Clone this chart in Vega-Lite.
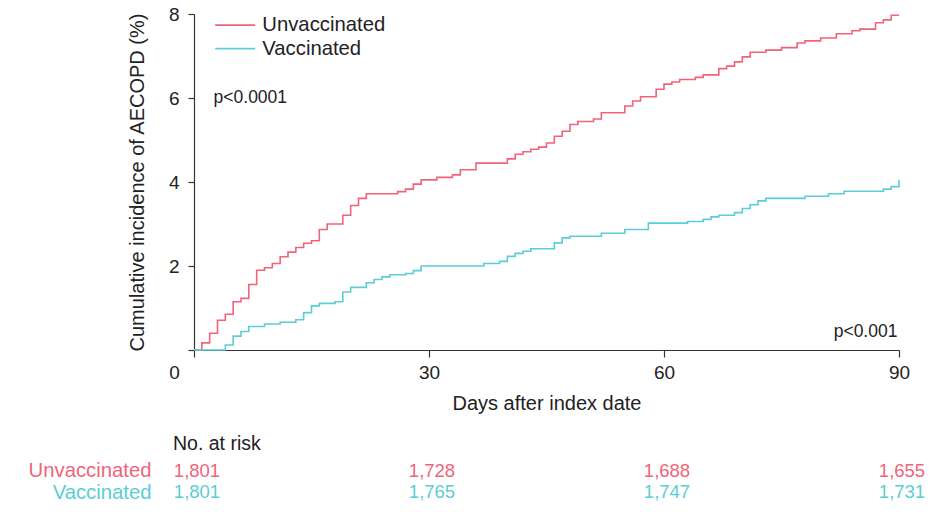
{
  "$schema": "https://vega.github.io/schema/vega-lite/v6.json",
  "background": "white",
  "padding": {"left": 28, "top": 5, "right": 6, "bottom": 5},
  "config": {
    "view": {"stroke": null},
    "font": "Liberation Sans",
    "axis": {"labelFont": "Liberation Sans", "titleFont": "Liberation Sans", "labelColor": "#222222", "titleColor": "#222222", "titleFontWeight": "normal", "grid": false},
    "title": {"font": "Liberation Sans", "fontWeight": "normal", "color": "#222222"}
  },
  "datasets": {
    "curves": [
      {"group": "Unvaccinated", "day": 0, "value": 0},
      {"group": "Unvaccinated", "day": 1, "value": 0.17},
      {"group": "Unvaccinated", "day": 2, "value": 0.40},
      {"group": "Unvaccinated", "day": 3, "value": 0.71},
      {"group": "Unvaccinated", "day": 4, "value": 0.85},
      {"group": "Unvaccinated", "day": 5, "value": 1.15},
      {"group": "Unvaccinated", "day": 6, "value": 1.23},
      {"group": "Unvaccinated", "day": 7, "value": 1.56},
      {"group": "Unvaccinated", "day": 8, "value": 1.90},
      {"group": "Unvaccinated", "day": 9, "value": 1.96},
      {"group": "Unvaccinated", "day": 10, "value": 2.06},
      {"group": "Unvaccinated", "day": 11, "value": 2.22},
      {"group": "Unvaccinated", "day": 12, "value": 2.33},
      {"group": "Unvaccinated", "day": 13, "value": 2.44},
      {"group": "Unvaccinated", "day": 14, "value": 2.54},
      {"group": "Unvaccinated", "day": 15, "value": 2.60},
      {"group": "Unvaccinated", "day": 16, "value": 2.87},
      {"group": "Unvaccinated", "day": 17, "value": 3.00},
      {"group": "Unvaccinated", "day": 19, "value": 3.21},
      {"group": "Unvaccinated", "day": 20, "value": 3.44},
      {"group": "Unvaccinated", "day": 21, "value": 3.61},
      {"group": "Unvaccinated", "day": 22, "value": 3.72},
      {"group": "Unvaccinated", "day": 26, "value": 3.77},
      {"group": "Unvaccinated", "day": 27, "value": 3.83},
      {"group": "Unvaccinated", "day": 28, "value": 3.95},
      {"group": "Unvaccinated", "day": 29, "value": 4.05},
      {"group": "Unvaccinated", "day": 31, "value": 4.11},
      {"group": "Unvaccinated", "day": 33, "value": 4.17},
      {"group": "Unvaccinated", "day": 34, "value": 4.29},
      {"group": "Unvaccinated", "day": 36, "value": 4.45},
      {"group": "Unvaccinated", "day": 40, "value": 4.55},
      {"group": "Unvaccinated", "day": 41, "value": 4.66},
      {"group": "Unvaccinated", "day": 42, "value": 4.72},
      {"group": "Unvaccinated", "day": 43, "value": 4.78},
      {"group": "Unvaccinated", "day": 44, "value": 4.83},
      {"group": "Unvaccinated", "day": 45, "value": 4.93},
      {"group": "Unvaccinated", "day": 46, "value": 5.09},
      {"group": "Unvaccinated", "day": 47, "value": 5.21},
      {"group": "Unvaccinated", "day": 48, "value": 5.37},
      {"group": "Unvaccinated", "day": 49, "value": 5.44},
      {"group": "Unvaccinated", "day": 51, "value": 5.50},
      {"group": "Unvaccinated", "day": 52, "value": 5.65},
      {"group": "Unvaccinated", "day": 55, "value": 5.81},
      {"group": "Unvaccinated", "day": 56, "value": 5.93},
      {"group": "Unvaccinated", "day": 57, "value": 6.03},
      {"group": "Unvaccinated", "day": 59, "value": 6.21},
      {"group": "Unvaccinated", "day": 60, "value": 6.33},
      {"group": "Unvaccinated", "day": 61, "value": 6.38},
      {"group": "Unvaccinated", "day": 62, "value": 6.44},
      {"group": "Unvaccinated", "day": 64, "value": 6.49},
      {"group": "Unvaccinated", "day": 65, "value": 6.55},
      {"group": "Unvaccinated", "day": 67, "value": 6.70},
      {"group": "Unvaccinated", "day": 68, "value": 6.76},
      {"group": "Unvaccinated", "day": 69, "value": 6.86},
      {"group": "Unvaccinated", "day": 70, "value": 6.98},
      {"group": "Unvaccinated", "day": 71, "value": 7.09},
      {"group": "Unvaccinated", "day": 73, "value": 7.14},
      {"group": "Unvaccinated", "day": 75, "value": 7.20},
      {"group": "Unvaccinated", "day": 77, "value": 7.31},
      {"group": "Unvaccinated", "day": 78, "value": 7.36},
      {"group": "Unvaccinated", "day": 80, "value": 7.43},
      {"group": "Unvaccinated", "day": 82, "value": 7.53},
      {"group": "Unvaccinated", "day": 84, "value": 7.60},
      {"group": "Unvaccinated", "day": 85, "value": 7.64},
      {"group": "Unvaccinated", "day": 87, "value": 7.79},
      {"group": "Unvaccinated", "day": 88, "value": 7.86},
      {"group": "Unvaccinated", "day": 89, "value": 7.97},
      {"group": "Unvaccinated", "day": 90, "value": 7.97},
      {"group": "Vaccinated", "day": 0, "value": 0},
      {"group": "Vaccinated", "day": 4, "value": 0.12},
      {"group": "Vaccinated", "day": 5, "value": 0.33},
      {"group": "Vaccinated", "day": 6, "value": 0.44},
      {"group": "Vaccinated", "day": 7, "value": 0.56},
      {"group": "Vaccinated", "day": 9, "value": 0.62},
      {"group": "Vaccinated", "day": 11, "value": 0.66},
      {"group": "Vaccinated", "day": 13, "value": 0.72},
      {"group": "Vaccinated", "day": 14, "value": 0.89},
      {"group": "Vaccinated", "day": 15, "value": 1.05},
      {"group": "Vaccinated", "day": 16, "value": 1.11},
      {"group": "Vaccinated", "day": 18, "value": 1.15},
      {"group": "Vaccinated", "day": 19, "value": 1.38},
      {"group": "Vaccinated", "day": 20, "value": 1.49},
      {"group": "Vaccinated", "day": 22, "value": 1.60},
      {"group": "Vaccinated", "day": 23, "value": 1.68},
      {"group": "Vaccinated", "day": 24, "value": 1.74},
      {"group": "Vaccinated", "day": 25, "value": 1.79},
      {"group": "Vaccinated", "day": 27, "value": 1.82},
      {"group": "Vaccinated", "day": 28, "value": 1.89},
      {"group": "Vaccinated", "day": 29, "value": 2.00},
      {"group": "Vaccinated", "day": 37, "value": 2.06},
      {"group": "Vaccinated", "day": 39, "value": 2.11},
      {"group": "Vaccinated", "day": 40, "value": 2.23},
      {"group": "Vaccinated", "day": 41, "value": 2.30},
      {"group": "Vaccinated", "day": 42, "value": 2.35},
      {"group": "Vaccinated", "day": 43, "value": 2.41},
      {"group": "Vaccinated", "day": 46, "value": 2.55},
      {"group": "Vaccinated", "day": 47, "value": 2.67},
      {"group": "Vaccinated", "day": 48, "value": 2.71},
      {"group": "Vaccinated", "day": 52, "value": 2.78},
      {"group": "Vaccinated", "day": 55, "value": 2.87},
      {"group": "Vaccinated", "day": 58, "value": 3.02},
      {"group": "Vaccinated", "day": 63, "value": 3.06},
      {"group": "Vaccinated", "day": 65, "value": 3.11},
      {"group": "Vaccinated", "day": 66, "value": 3.17},
      {"group": "Vaccinated", "day": 67, "value": 3.21},
      {"group": "Vaccinated", "day": 69, "value": 3.27},
      {"group": "Vaccinated", "day": 70, "value": 3.37},
      {"group": "Vaccinated", "day": 71, "value": 3.46},
      {"group": "Vaccinated", "day": 72, "value": 3.55},
      {"group": "Vaccinated", "day": 73, "value": 3.61},
      {"group": "Vaccinated", "day": 78, "value": 3.66},
      {"group": "Vaccinated", "day": 81, "value": 3.72},
      {"group": "Vaccinated", "day": 83, "value": 3.78},
      {"group": "Vaccinated", "day": 88, "value": 3.83},
      {"group": "Vaccinated", "day": 89, "value": 3.89},
      {"group": "Vaccinated", "day": 90, "value": 4.05}
    ],
    "pvalues": [
      {"label": "p<0.0001", "day": 2.5, "value": 6.0, "side": "left"},
      {"label": "p<0.001", "day": 89.8, "value": 0.44, "side": "right"}
    ],
    "risk": [
      {"group": "Unvaccinated", "day": 0, "n": "1,801"},
      {"group": "Unvaccinated", "day": 30, "n": "1,728"},
      {"group": "Unvaccinated", "day": 60, "n": "1,688"},
      {"group": "Unvaccinated", "day": 90, "n": "1,655"},
      {"group": "Vaccinated", "day": 0, "n": "1,801"},
      {"group": "Vaccinated", "day": 30, "n": "1,765"},
      {"group": "Vaccinated", "day": 60, "n": "1,747"},
      {"group": "Vaccinated", "day": 90, "n": "1,731"}
    ]
  },
  "vconcat": [
    {
      "width": 705,
      "height": 336,
      "layer": [
        {
          "data": {"name": "curves"},
          "mark": {"type": "line", "interpolate": "step-after", "strokeWidth": 1.6, "clip": false},
          "encoding": {
            "x": {
              "field": "day", "type": "quantitative",
              "scale": {"domain": [0, 90], "nice": false, "zero": false},
              "axis": {
                "values": [0, 30, 60, 90], "title": "Days after index date",
                "titleFontSize": 20, "labelFontSize": 19, "tickSize": 7, "tickColor": "#333333", "domainColor": "#333333", "domainWidth": 1.2, "tickWidth": 1.2,
                "labelPadding": 6, "titlePadding": 11, "labelFlush": false,
                "labelOffset": {"condition": {"test": "datum.value == 0", "value": -20}, "value": 0}
              }
            },
            "y": {
              "field": "value", "type": "quantitative",
              "scale": {"domain": [0, 8], "nice": false},
              "axis": {
                "values": [0, 2, 4, 6, 8], "title": "Cumulative incidence of AECOPD (%)",
                "labelExpr": "datum.value == 0 ? '' : datum.label", "labelFlush": false,
                "titleFontSize": 20, "labelFontSize": 19, "tickSize": 6, "tickColor": "#333333", "domainColor": "#333333", "domainWidth": 1.2, "tickWidth": 1.2,
                "labelPadding": 9, "titlePadding": 21
              }
            },
            "color": {
              "field": "group", "type": "nominal",
              "scale": {"domain": ["Unvaccinated", "Vaccinated"], "range": ["#F0647A", "#5BCDD6"]},
              "legend": {
                "title": null, "orient": "none", "legendX": 31, "legendY": 1,
                "symbolType": "M-4,0L4,0", "symbolSize": 100, "symbolStrokeWidth": 1.6,
                "labelFontSize": 20.3, "labelFont": "Liberation Sans", "labelColor": "#222222", "labelOffset": 17,
                "rowPadding": 2.5, "padding": 0
              }
            }
          }
        },
        {
          "data": {"name": "pvalues"},
          "transform": [{"filter": "datum.side == 'left'"}],
          "mark": {"type": "text", "fontSize": 17.5, "color": "#222222", "baseline": "middle", "align": "left"},
          "encoding": {
            "x": {"field": "day", "type": "quantitative"},
            "y": {"field": "value", "type": "quantitative"},
            "text": {"field": "label"}
          }
        },
        {
          "data": {"name": "pvalues"},
          "transform": [{"filter": "datum.side == 'right'"}],
          "mark": {"type": "text", "fontSize": 17.5, "color": "#222222", "baseline": "middle", "align": "right"},
          "encoding": {
            "x": {"field": "day", "type": "quantitative"},
            "y": {"field": "value", "type": "quantitative"},
            "text": {"field": "label"}
          }
        }
      ]
    },
    {
      "width": 705,
      "height": 43,
      "title": {"text": "No. at risk", "anchor": "start", "frame": "group", "dx": -21, "fontSize": 19.5, "offset": 6},
      "data": {"name": "risk"},
      "mark": {"type": "text", "fontSize": 18.5, "baseline": "middle", "align": "center", "dx": 3},
      "encoding": {
        "x": {"field": "day", "type": "quantitative", "scale": {"domain": [0, 90], "nice": false}, "axis": null},
        "y": {
          "field": "group", "type": "nominal",
          "scale": {"domain": ["Unvaccinated", "Vaccinated"]},
          "axis": {
            "title": null, "domain": false, "ticks": false, "labelPadding": 43, "labelFontSize": 20.3,
            "labelColor": {"condition": {"test": "datum.value == 'Unvaccinated'", "value": "#F0647A"}, "value": "#5BCDD6"}
          }
        },
        "text": {"field": "n"},
        "color": {
          "field": "group", "type": "nominal",
          "scale": {"domain": ["Unvaccinated", "Vaccinated"], "range": ["#F0647A", "#5BCDD6"]},
          "legend": null
        }
      }
    }
  ],
  "spacing": 20,
  "resolve": {"scale": {"x": "independent", "color": "independent"}}
}
